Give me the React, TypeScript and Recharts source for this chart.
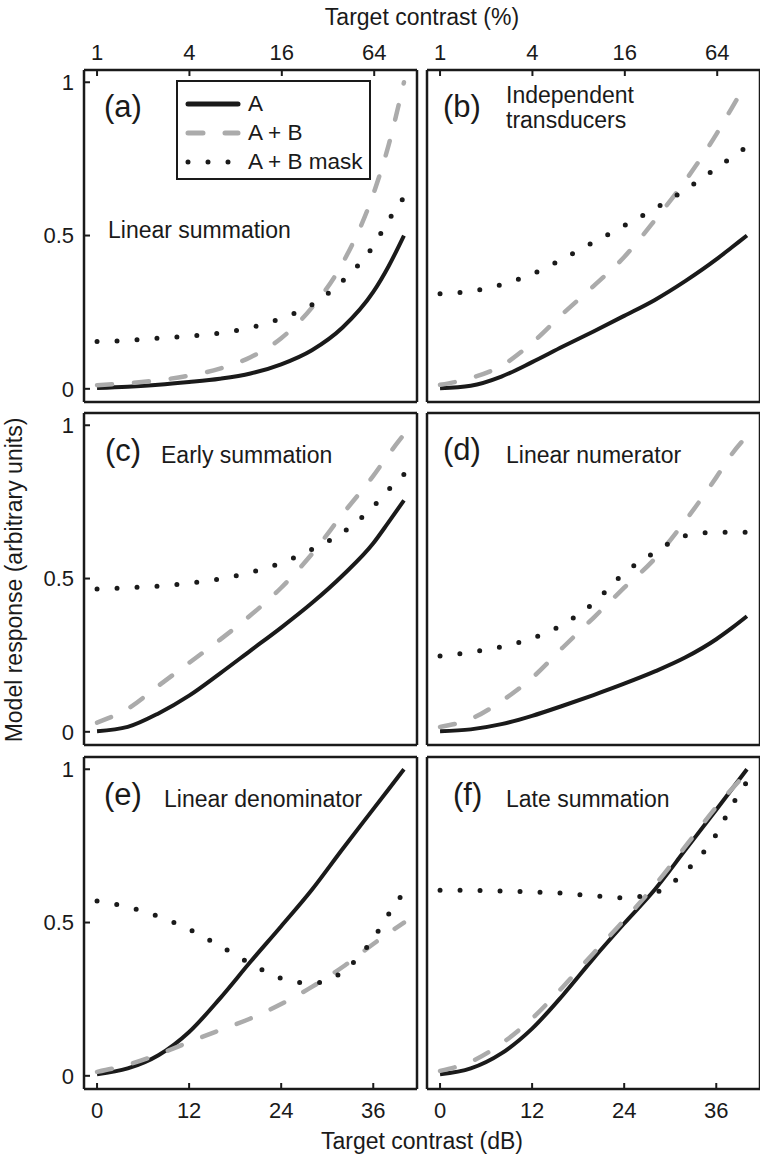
import React from 'react';
import { LineChart, Line, XAxis, YAxis } from 'recharts';

// contrast in dB (0 dB = 1 %, 40 dB = 100 %)
const DB = [0, 4, 8, 12, 16, 20, 24, 28, 32, 36, 38, 40];
const DB_TICKS = [0, 12, 24, 36];
const PCT_TICKS = [1, 4, 16, 64];
const Y_TICKS = [0, 0.5, 1];

// (a) linear summation
const A_LIN_SUM = [0.003, 0.007, 0.013, 0.022, 0.033, 0.05, 0.08, 0.126, 0.2, 0.316, 0.4, 0.5];
const AB_LIN_SUM = [0.012, 0.018, 0.028, 0.043, 0.066, 0.103, 0.165, 0.265, 0.41, 0.635, 0.795, 1.0];
const MASK_LIN_SUM = [0.154, 0.158, 0.165, 0.172, 0.182, 0.2, 0.23, 0.274, 0.352, 0.466, 0.55, 0.625];

// (b) independent transducers
const A_INDEP = [0.002, 0.01, 0.04, 0.087, 0.138, 0.187, 0.238, 0.29, 0.352, 0.422, 0.461, 0.5];
const AB_INDEP = [0.013, 0.035, 0.075, 0.15, 0.245, 0.335, 0.43, 0.55, 0.68, 0.83, 0.915, 1.0];
const MASK_INDEP = [0.31, 0.318, 0.34, 0.374, 0.424, 0.478, 0.532, 0.588, 0.65, 0.72, 0.755, 0.79];

// (c) early summation
const A_EARLY = [0.002, 0.016, 0.06, 0.118, 0.19, 0.265, 0.34, 0.42, 0.51, 0.615, 0.684, 0.755];
const AB_EARLY = [0.03, 0.075, 0.15, 0.225, 0.3, 0.38, 0.47, 0.58, 0.71, 0.835, 0.905, 0.97];
const MASK_EARLY = [0.466, 0.47, 0.475, 0.485, 0.499, 0.52, 0.551, 0.595, 0.65, 0.735, 0.79, 0.84];

// (d) linear numerator
const A_NUM = [0.002, 0.008, 0.025, 0.052, 0.085, 0.12, 0.157, 0.197, 0.243, 0.302, 0.338, 0.377];
const AB_NUM = [0.016, 0.042, 0.1, 0.176, 0.275, 0.372, 0.47, 0.565, 0.69, 0.83, 0.905, 0.965];
const MASK_NUM = [0.247, 0.26, 0.277, 0.305, 0.35, 0.42, 0.518, 0.586, 0.64, 0.651, 0.651, 0.651];

// (e) linear denominator
const A_DEN = [0.005, 0.024, 0.067, 0.143, 0.252, 0.372, 0.488, 0.607, 0.74, 0.87, 0.935, 1.0];
const AB_DEN = [0.013, 0.036, 0.07, 0.11, 0.149, 0.187, 0.234, 0.29, 0.355, 0.43, 0.466, 0.5];
const MASK_DEN = [0.57, 0.551, 0.52, 0.478, 0.424, 0.366, 0.318, 0.302, 0.339, 0.448, 0.527, 0.6];

// (f) late summation
const A_LATE = [0.005, 0.024, 0.073, 0.154, 0.263, 0.383, 0.497, 0.608, 0.738, 0.868, 0.934, 1.0];
const AB_LATE = [0.016, 0.046, 0.105, 0.187, 0.29, 0.4, 0.508, 0.622, 0.749, 0.877, 0.935, 0.99];
const MASK_LATE = [0.605, 0.605, 0.603, 0.6, 0.596, 0.587, 0.581, 0.597, 0.667, 0.788, 0.88, 0.96];

const PANELS = [
  { tag: '(a)', title: ['Linear summation'], a: A_LIN_SUM, ab: AB_LIN_SUM, mask: MASK_LIN_SUM },
  { tag: '(b)', title: ['Independent', 'transducers'], a: A_INDEP, ab: AB_INDEP, mask: MASK_INDEP },
  { tag: '(c)', title: ['Early summation'], a: A_EARLY, ab: AB_EARLY, mask: MASK_EARLY },
  { tag: '(d)', title: ['Linear numerator'], a: A_NUM, ab: AB_NUM, mask: MASK_NUM },
  { tag: '(e)', title: ['Linear denominator'], a: A_DEN, ab: AB_DEN, mask: MASK_DEN },
  { tag: '(f)', title: ['Late summation'], a: A_LATE, ab: AB_LATE, mask: MASK_LATE },
];

const FONT = '"Liberation Sans", Arial, Helvetica, sans-serif';
const INK = '#1a1a1a';
const GREY = '#ababab';
const DASH = '15 22';
const DOTS = '0 20';

const PLOT_W = 333;
const PLOT_H = 332;
const COL_X = [84, 427];
const ROW_Y = [70, 413, 757];
const X_DOMAIN = [-1.7, 41.7];
const Y_DOMAIN = [-0.043, 1.04];

// where the tag and the title sit inside each panel
const TAG_POS = [
  { x: 104, y: 109 },
  { x: 443, y: 109 },
  { x: 105, y: 453 },
  { x: 443, y: 452 },
  { x: 104, y: 797 },
  { x: 453, y: 797 },
];
const TITLE_POS = [
  { x: 108, y: 237 },
  { x: 506, y: 102 },
  { x: 161, y: 462 },
  { x: 506, y: 462 },
  { x: 164, y: 806 },
  { x: 506, y: 806 },
];

const tickText = { fill: INK, fontSize: 22, fontFamily: FONT };
const axisLine = { stroke: INK, strokeWidth: 2.5 };
const tickLine = { stroke: INK, strokeWidth: 2 };

function Panel({ idx }: { idx: number }) {
  const p = PANELS[idx];
  const row = Math.floor(idx / 2);
  const col = idx % 2;
  const showTop = row === 0;
  const showBottom = row === 2;
  const showLeft = col === 0;
  const lw = showLeft ? 44 : 6;
  const rw = 6;
  const th = showTop ? 44 : 6;
  const bh = showBottom ? 44 : 6;
  const data = DB.map((db, i) => ({ db, a: p.a[i], ab: p.ab[i], mask: p.mask[i] }));
  const topTicks = PCT_TICKS.map((c) => 20 * Math.log10(c));

  return (
    <div style={{ position: 'absolute', left: COL_X[col] - lw, top: ROW_Y[row] - th }}>
      <LineChart
        width={lw + PLOT_W + rw}
        height={th + PLOT_H + bh}
        data={data}
        margin={{ top: 0, right: 0, bottom: 0, left: 0 }}
        style={{ fontFamily: FONT }}
      >
        <XAxis
          xAxisId="bottom"
          dataKey="db"
          type="number"
          domain={X_DOMAIN}
          ticks={DB_TICKS}
          interval={0}
          orientation="bottom"
          height={bh}
          axisLine={axisLine}
          tickLine={tickLine}
          tickSize={-6}
          tickMargin={19}
          tick={showBottom ? tickText : false}
        />
        <XAxis
          xAxisId="top"
          dataKey="db"
          type="number"
          domain={X_DOMAIN}
          ticks={topTicks}
          interval={0}
          orientation="top"
          height={th}
          axisLine={axisLine}
          tickLine={tickLine}
          tickSize={-6}
          tickMargin={16}
          tickFormatter={(v: number) => String(Math.round(Math.pow(10, v / 20)))}
          tick={showTop ? tickText : false}
        />
        <YAxis
          yAxisId="left"
          type="number"
          domain={Y_DOMAIN}
          ticks={Y_TICKS}
          interval={0}
          width={lw}
          axisLine={axisLine}
          tickLine={tickLine}
          tickSize={-6}
          tickMargin={16}
          tick={showLeft ? tickText : false}
        />
        <YAxis
          yAxisId="right"
          orientation="right"
          type="number"
          domain={Y_DOMAIN}
          ticks={Y_TICKS}
          interval={0}
          width={rw}
          axisLine={axisLine}
          tickLine={tickLine}
          tickSize={-6}
          tick={false}
        />
        <Line
          xAxisId="bottom"
          yAxisId="left"
          type="monotone"
          dataKey="a"
          stroke={INK}
          strokeWidth={4}
          dot={false}
          activeDot={false}
          isAnimationActive={false}
        />
        <Line
          xAxisId="bottom"
          yAxisId="left"
          type="monotone"
          dataKey="ab"
          stroke={GREY}
          strokeWidth={4.5}
          strokeDasharray={DASH}
          strokeLinecap="round"
          dot={false}
          activeDot={false}
          isAnimationActive={false}
        />
        <Line
          xAxisId="bottom"
          yAxisId="left"
          type="monotone"
          dataKey="mask"
          stroke={INK}
          strokeWidth={5}
          strokeDasharray={DOTS}
          strokeLinecap="round"
          dot={false}
          activeDot={false}
          isAnimationActive={false}
        />
      </LineChart>
    </div>
  );
}

function PanelText({ idx }: { idx: number }) {
  const p = PANELS[idx];
  const tag = TAG_POS[idx];
  const t = TITLE_POS[idx];
  return (
    <>
      <div style={{ position: 'absolute', left: tag.x, top: tag.y - 18, fontSize: 31, lineHeight: '31px', color: INK }}>
        {p.tag}
      </div>
      {p.title.map((line, i) => (
        <div
          key={line}
          style={{
            position: 'absolute',
            left: t.x,
            top: t.y - 18 + i * 25,
            fontSize: 23,
            lineHeight: '23px',
            color: INK,
            whiteSpace: 'nowrap',
          }}
        >
          {line}
        </div>
      ))}
    </>
  );
}

function LegendBox() {
  const rows = [
    { name: 'A', stroke: INK, width: 5, dash: undefined },
    { name: 'A + B', stroke: GREY, width: 5, dash: DASH },
    { name: 'A + B mask', stroke: INK, width: 5, dash: DOTS },
  ];
  return (
    <div
      style={{
        position: 'absolute',
        left: 176,
        top: 80,
        width: 195,
        height: 100,
        boxSizing: 'border-box',
        border: `2px solid ${INK}`,
        background: '#fff',
      }}
    >
      {rows.map((r, i) => (
        <div key={r.name} style={{ position: 'absolute', left: 6, top: 8 + i * 29, height: 28, display: 'flex', alignItems: 'center' }}>
          <svg width={58} height={12}>
            <line
              x1={4}
              y1={6}
              x2={54}
              y2={6}
              stroke={r.stroke}
              strokeWidth={r.width}
              strokeDasharray={r.dash}
              strokeLinecap="round"
            />
          </svg>
          <span style={{ marginLeft: 6, fontSize: 22.5, color: INK, whiteSpace: 'nowrap' }}>{r.name}</span>
        </div>
      ))}
    </div>
  );
}

export default function App() {
  return (
    <div
      style={{
        position: 'absolute',
        left: 0,
        top: 0,
        width: 760,
        height: 1157,
        overflow: 'hidden',
        background: '#fff',
        fontFamily: FONT,
        color: INK,
      }}
    >
      {PANELS.map((_, i) => (
        <Panel key={i} idx={i} />
      ))}
      {PANELS.map((_, i) => (
        <PanelText key={i} idx={i} />
      ))}
      <LegendBox />
      <div style={{ position: 'absolute', left: 222, width: 400, top: 3, textAlign: 'center', fontSize: 23, lineHeight: '28px' }}>
        Target contrast (%)
      </div>
      <div style={{ position: 'absolute', left: 222, width: 400, top: 1127, textAlign: 'center', fontSize: 23, lineHeight: '28px' }}>
        Target contrast (dB)
      </div>
      <div
        style={{
          position: 'absolute',
          left: 14 - 200,
          top: 580 - 14,
          width: 400,
          textAlign: 'center',
          fontSize: 23,
          lineHeight: '28px',
          transform: 'rotate(-90deg)',
          whiteSpace: 'nowrap',
        }}
      >
        Model response (arbitrary units)
      </div>
    </div>
  );
}
